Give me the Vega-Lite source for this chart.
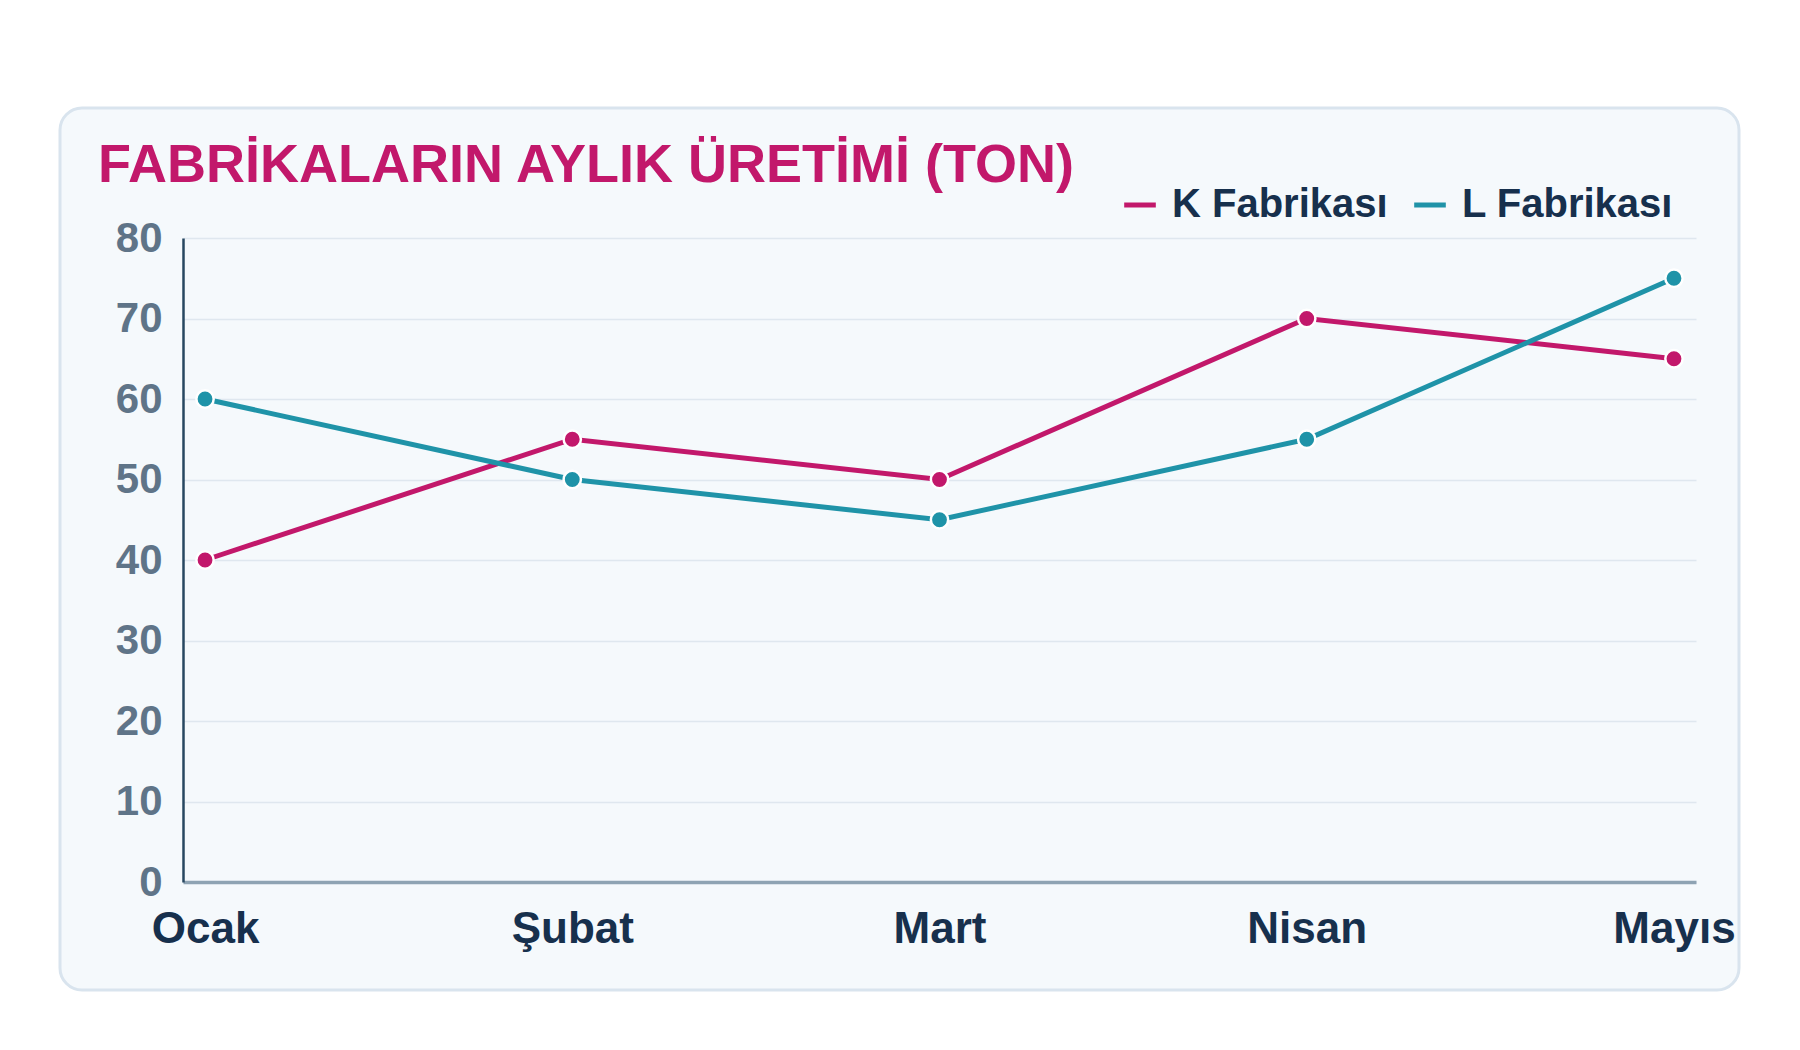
{
  "$schema": "https://vega.github.io/schema/vega-lite/v6.json",
  "autosize": {"type": "none"},
  "width": 1679,
  "height": 882,
  "padding": {"left": 60, "top": 108, "right": 61, "bottom": 60},
  "background": "#ffffff",
  "title": {
    "text": "FABRİKALARIN AYLIK ÜRETİMİ (TON)",
    "anchor": "start",
    "frame": "group",
    "dx": 38,
    "offset": -128,
    "baseline": "alphabetic",
    "font": "Liberation Sans",
    "fontSize": 54,
    "fontWeight": "bold",
    "color": "#c2186b"
  },
  "data": {
    "values": [
      {"ay": "Ocak", "fabrika": "K Fabrikası", "uretim": 40},
      {"ay": "Şubat", "fabrika": "K Fabrikası", "uretim": 55},
      {"ay": "Mart", "fabrika": "K Fabrikası", "uretim": 50},
      {"ay": "Nisan", "fabrika": "K Fabrikası", "uretim": 70},
      {"ay": "Mayıs", "fabrika": "K Fabrikası", "uretim": 65},
      {"ay": "Ocak", "fabrika": "L Fabrikası", "uretim": 60},
      {"ay": "Şubat", "fabrika": "L Fabrikası", "uretim": 50},
      {"ay": "Mart", "fabrika": "L Fabrikası", "uretim": 45},
      {"ay": "Nisan", "fabrika": "L Fabrikası", "uretim": 55},
      {"ay": "Mayıs", "fabrika": "L Fabrikası", "uretim": 75}
    ]
  },
  "mark": {
    "type": "line",
    "strokeWidth": 5,
    "point": {"filled": true, "size": 300, "stroke": "#ffffff", "strokeWidth": 2.5, "opacity": 1}
  },
  "encoding": {
    "x": {
      "field": "ay",
      "type": "ordinal",
      "sort": ["Ocak", "Şubat", "Mart", "Nisan", "Mayıs"],
      "scale": {"type": "point", "range": [123, 1636], "padding": 0.06},
      "axis": {
        "title": null,
        "offset": -108,
        "labelAngle": 0,
        "labelFont": "Liberation Sans",
        "labelFontSize": 44,
        "labelFontWeight": "bold",
        "labelColor": "#17304d",
        "labelPadding": 25,
        "ticks": false,
        "grid": false,
        "domainColor": "#8ea3b3",
        "domainWidth": 3.5
      }
    },
    "y": {
      "field": "uretim",
      "type": "quantitative",
      "scale": {"domain": [0, 80], "range": [774, 130], "nice": false},
      "axis": {
        "title": null,
        "offset": -123,
        "values": [0, 10, 20, 30, 40, 50, 60, 70, 80],
        "labelFont": "Liberation Sans",
        "labelFontSize": 42,
        "labelFontWeight": "bold",
        "labelColor": "#5f7488",
        "labelPadding": 21,
        "ticks": false,
        "domainColor": "#274761",
        "domainWidth": 2.5,
        "gridColor": "#dfe7ef",
        "gridWidth": 1.5
      }
    },
    "color": {
      "field": "fabrika",
      "type": "nominal",
      "scale": {"domain": ["K Fabrikası", "L Fabrikası"], "range": ["#c2186b", "#1f93a8"]},
      "legend": {
        "title": null,
        "orient": "none",
        "direction": "horizontal",
        "legendX": 1060,
        "legendY": 77,
        "symbolType": "stroke",
        "symbolSize": 1000,
        "symbolStrokeWidth": 5,
        "labelFont": "Liberation Sans",
        "labelFontSize": 40,
        "labelFontWeight": "bold",
        "labelColor": "#17304d",
        "labelOffset": 12,
        "columnPadding": 16,
        "labelLimit": 400
      }
    }
  },
  "config": {
    "view": {"fill": "#f5f9fc", "stroke": "#d9e4ee", "strokeWidth": 3, "cornerRadius": 22}
  }
}
